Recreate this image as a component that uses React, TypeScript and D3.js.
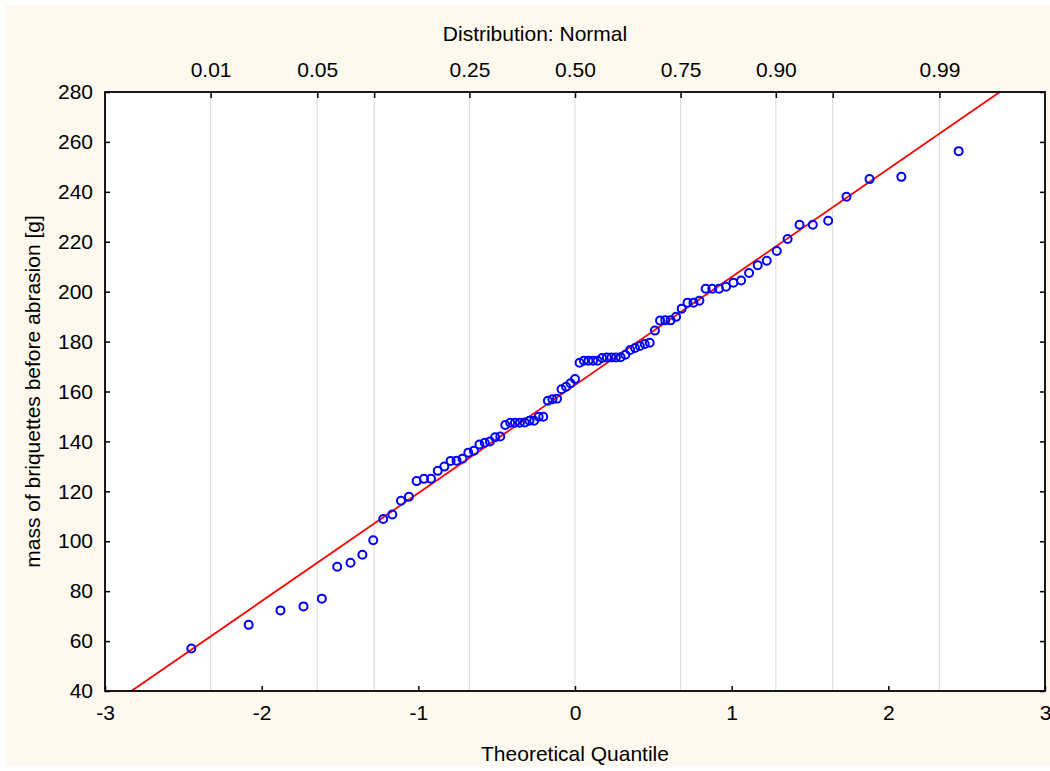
import React, { useEffect, useRef } from "react";
import * as d3 from "d3";

// normal probability plot: theoretical quantile vs sorted mass
const quantiles = [
  -2.449, -2.083, -1.88, -1.733, -1.616, -1.518, -1.433, -1.357, -1.288, -1.224,
  -1.166, -1.111, -1.06, -1.011, -0.964, -0.919, -0.876, -0.834, -0.794, -0.756,
  -0.718, -0.681, -0.645, -0.61, -0.576, -0.543, -0.51, -0.477, -0.445, -0.414,
  -0.383, -0.352, -0.321, -0.291, -0.261, -0.232, -0.203, -0.173, -0.144, -0.115,
  -0.086, -0.057, -0.029, 0, 0.029, 0.057, 0.086, 0.115, 0.144, 0.173,
  0.203, 0.232, 0.261, 0.291, 0.321, 0.352, 0.383, 0.414, 0.445, 0.477,
  0.51, 0.543, 0.576, 0.61, 0.645, 0.681, 0.718, 0.756, 0.794, 0.834,
  0.876, 0.919, 0.964, 1.011, 1.06, 1.111, 1.166, 1.224, 1.288, 1.357,
  1.433, 1.518, 1.616, 1.733, 1.88, 2.083, 2.449
];

const mass = [
  57, 66.5, 72.3, 73.9, 77, 89.8, 91.4, 94.6, 100.4, 108.9,
  110.7, 116.2, 117.8, 124.1, 125, 125, 128.2, 129.9, 132.2, 132.3,
  133.1, 135.5, 136.3, 138.8, 139.5, 140, 141.7, 142, 146.6, 147.5,
  147.5, 147.5, 147.6, 148.3, 148.3, 149.9, 149.9, 156.3, 156.9, 157.1,
  160.9, 161.9, 163.3, 165, 171.5, 172.3, 172.3, 172.3, 172.3, 173.4,
  173.6, 173.6, 173.6, 173.7, 174.7, 176.6, 177.4, 178.2, 179, 179.5,
  184.4, 188.4, 188.5, 188.5, 189.9, 193.2, 195.6, 195.6, 196.4, 201.2,
  201.2, 201.2, 202, 203.6, 204.5, 207.5, 210.6, 212.4, 216.3, 221.1,
  226.8, 226.8, 228.4, 238, 245.1, 246, 256.3
];

const xTicks = [-3, -2, -1, 0, 1, 2, 3];
const yTicks = [40, 60, 80, 100, 120, 140, 160, 180, 200, 220, 240, 260, 280];
// top axis: quantiles of the standard normal for the probabilities
const probTicks = [-2.326, -1.645, -1.282, -0.674, 0, 0.674, 1.282, 1.645, 2.326];
const probLabels = ["0.01", "0.05", "", "0.25", "0.50", "0.75", "0.90", "", "0.99"];

const fitMean = 162.6;
const fitSd = 43.3;

const FONT = "'Liberation Sans', Arial, Helvetica, sans-serif";

export default function App() {
  const gRef = useRef<SVGGElement>(null);
  const W = 1050;
  const H = 771;
  const margin = { top: 92, right: 5, bottom: 80, left: 105 };
  const width = W - margin.left - margin.right;
  const height = H - margin.top - margin.bottom;

  const x = d3.scaleLinear().domain([-3, 3]).range([0, width]);
  const y = d3.scaleLinear().domain([40, 280]).range([height, 0]);

  useEffect(() => {
    const g = d3.select(gRef.current);

    const style = (sel: any) => {
      sel.attr("font-size", null).attr("font-family", null);
      sel.select(".domain").remove();
      sel.selectAll(".tick line").attr("stroke", "#000").attr("stroke-width", 1.5);
      sel.selectAll(".tick text").attr("fill", "#000");
    };

    g.select<SVGGElement>(".x-axis")
      .attr("transform", `translate(0, ${height})`)
      .call(d3.axisBottom(x).tickValues(xTicks).tickSize(-5).tickPadding(14).tickFormat((d: any) => String(d)))
      .call(style);

    g.select<SVGGElement>(".y-axis")
      .call(d3.axisLeft(y).tickValues(yTicks).tickSize(-5).tickPadding(12).tickFormat((d: any) => String(d)))
      .call(style);

    g.select<SVGGElement>(".y-axis-right")
      .attr("transform", `translate(${width}, 0)`)
      .call(d3.axisRight(y).tickValues(yTicks).tickSize(-5).tickFormat(() => ""))
      .call(style);

    g.select<SVGGElement>(".top-axis")
      .call(d3.axisTop(x).tickValues(probTicks).tickSize(-6).tickPadding(15).tickFormat((_d: any, i: number) => probLabels[i]))
      .call(style);
  }, []);

  const x0 = (40 - fitMean) / fitSd;
  const x1 = (280 - fitMean) / fitSd;
  const fitLine = d3.line<number[]>()
    .x(d => x(d[0]))
    .y(d => y(d[1]))([[x0, 40], [x1, 280]]);

  return (
    <svg
      width={W}
      height={H}
      style={{ position: "absolute", left: 0, top: 0, background: "#fff" }}
      fontFamily={FONT}
      fontSize={21}
    >
      <rect x={6} y={5} width={W - 6} height={H - 10} fill="#fdf9ef" />
      <g ref={gRef} transform={`translate(${margin.left}, ${margin.top})`}>
        <rect x={0} y={0} width={width} height={height} fill="#fff" />
        {probTicks.map((t, i) => (
          <line key={i} x1={x(t)} x2={x(t)} y1={0} y2={height} stroke="#d9d9d9" strokeWidth={1} />
        ))}
        <path d={fitLine || ""} stroke="#ff0000" strokeWidth={1.8} fill="none" />
        {quantiles.map((q, i) => (
          <circle key={i} cx={x(q)} cy={y(mass[i])} r={4} fill="none" stroke="#0000ff" strokeWidth={2} />
        ))}
        <g className="x-axis" />
        <g className="y-axis" />
        <g className="y-axis-right" />
        <g className="top-axis" />
        <rect x={0} y={0} width={width} height={height} fill="none" stroke="#000" strokeWidth={1.8} />
        <text x={535 - margin.left} y={41 - margin.top} textAnchor="middle">Distribution: Normal</text>
        <text x={width / 2} y={761 - margin.top} textAnchor="middle">Theoretical Quantile</text>
        <text
          transform={`translate(${40 - margin.left}, ${height / 2}) rotate(-90)`}
          textAnchor="middle"
        >
          mass of briquettes before abrasion [g]
        </text>
      </g>
    </svg>
  );
}
